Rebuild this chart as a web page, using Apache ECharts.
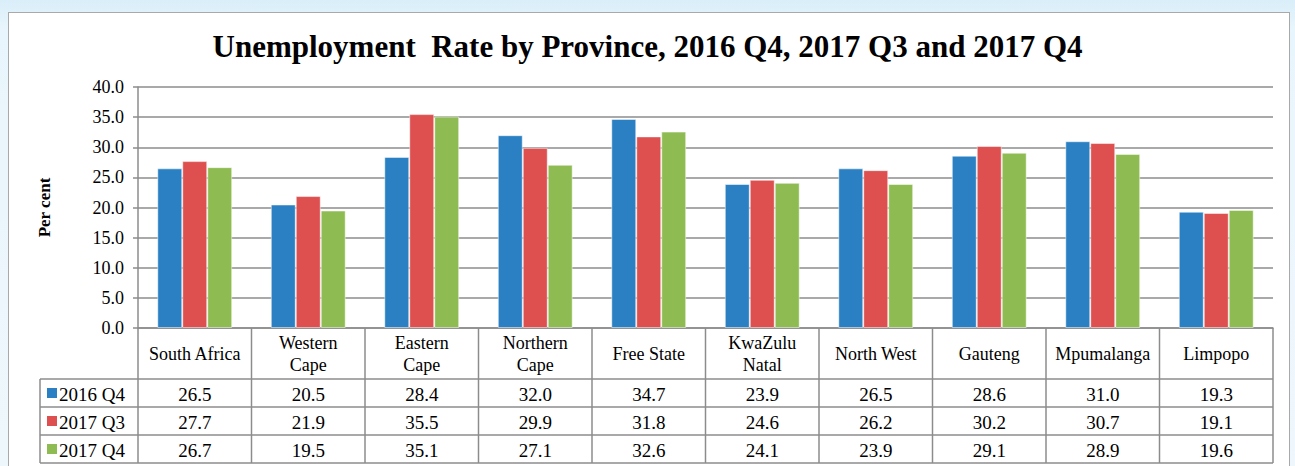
<!DOCTYPE html>
<html>
<head>
<meta charset="utf-8" />
<title>Unemployment Rate by Province</title>
<script src="https://cdn.jsdelivr.net/npm/echarts@6/dist/echarts.min.js"></script>
<style>
  html, body { margin: 0; padding: 0; }
  body { width: 1295px; height: 466px; overflow: hidden; position: relative;
         background: linear-gradient(to bottom, #d9eef9 0px, #e9f5fc 30px, #eef7fc 100%); }
  .panel { position: absolute; left: 8px; top: 12px; width: 1282px; height: 470px;
           background: #fff; border: 1px solid #a9a9a9; box-sizing: border-box; }
  #main { position: absolute; left: 0; top: 0; width: 1295px; height: 466px; }
</style>
</head>
<body>
<div class="panel"></div>
<div id="main"></div>
<script type="text/javascript">
  // data
  var provinces = ['South Africa', 'Western Cape', 'Eastern Cape', 'Northern Cape', 'Free State',
                   'KwaZulu Natal', 'North West', 'Gauteng', 'Mpumalanga', 'Limpopo'];
  var headLabels = ['South Africa', 'Western\nCape', 'Eastern\nCape', 'Northern\nCape', 'Free State',
                    'KwaZulu\nNatal', 'North West', 'Gauteng', 'Mpumalanga', 'Limpopo'];
  var seriesNames = ['2016 Q4', '2017 Q3', '2017 Q4'];
  var q4_2016 = [26.5, 20.5, 28.4, 32.0, 34.7, 23.9, 26.5, 28.6, 31.0, 19.3];
  var q3_2017 = [27.7, 21.9, 35.5, 29.9, 31.8, 24.6, 26.2, 30.2, 30.7, 19.1];
  var q4_2017 = [26.7, 19.5, 35.1, 27.1, 32.6, 24.1, 23.9, 29.1, 28.9, 19.6];
  var allSeries = [q4_2016, q3_2017, q4_2017];
  var colors = ['#2a80c3', '#de4f4f', '#8fbc52'];

  var font = 'Liberation Serif';
  var fs = 18;
  var lineCol = '#8c8c8c';

  var myChart = echarts.init(document.getElementById('main'), null, { renderer: 'svg' });

  var option = {
    backgroundColor: 'transparent',
    animation: false,
    color: colors,
    title: {
      text: 'Unemployment  Rate by Province, 2016 Q4, 2017 Q3 and 2017 Q4',
      left: 'center',
      top: 26,
      textStyle: { fontFamily: font, fontSize: 31, fontWeight: 'bold', color: '#000' }
    },
    grid: { left: 138, right: 22, top: 87, bottom: 138 },
    xAxis: {
      type: 'category',
      data: provinces,
      axisLine: { lineStyle: { color: lineCol, width: 1.5 } },
      axisTick: { show: false },
      axisLabel: { show: false }
    },
    yAxis: {
      type: 'value',
      min: 0, max: 40, interval: 5,
      name: 'Per cent',
      nameLocation: 'middle',
      nameGap: 85,
      nameRotate: 90,
      nameTextStyle: { fontFamily: font, fontSize: 17, fontWeight: 'bold', color: '#000' },
      axisLine: { show: true, lineStyle: { color: lineCol, width: 1.5 } },
      axisTick: { show: true, length: 5, lineStyle: { color: lineCol, width: 1.5 } },
      axisLabel: {
        margin: 14, fontFamily: font, fontSize: fs, color: '#000',
        formatter: function (v) { return v.toFixed(1); }
      },
      splitLine: { lineStyle: { color: lineCol, width: 1.5 } }
    },
    series: seriesNames.map(function (name, k) {
      return {
        name: name,
        type: 'bar',
        data: allSeries[k],
        barGap: '0%',
        barCategoryGap: '34%',
        itemStyle: { color: colors[k], borderColor: 'rgba(255,255,255,0.5)', borderWidth: 1 }
      };
    })
  };
  myChart.setOption(option);

  // data table under the plot, placed from the axis scale
  var gLeft = 138, gRight = 1273, axisY = 328, headBottom = 379, rowH = 28, keyLeft = 40;
  var band = (gRight - gLeft) / provinces.length;
  var tableBottom = headBottom + rowH * seriesNames.length;
  var els = [];
  var lineStyle = { stroke: lineCol, lineWidth: 1.5 };

  // horizontal rules
  for (var r = 0; r <= seriesNames.length; r++) {
    var y = headBottom + r * rowH;
    els.push({ type: 'line', shape: { x1: keyLeft, y1: y, x2: gRight, y2: y }, style: lineStyle, silent: true });
  }
  els.push({ type: 'line', shape: { x1: keyLeft, y1: headBottom, x2: keyLeft, y2: tableBottom }, style: lineStyle, silent: true });

  provinces.forEach(function (p, i) {
    var cx = myChart.convertToPixel({ xAxisIndex: 0 }, p);
    var xl = cx - band / 2;
    els.push({ type: 'line', shape: { x1: xl, y1: axisY, x2: xl, y2: tableBottom }, style: lineStyle, silent: true });
    if (i === provinces.length - 1) {
      var xr = cx + band / 2;
      els.push({ type: 'line', shape: { x1: xr, y1: axisY, x2: xr, y2: tableBottom }, style: lineStyle, silent: true });
    }
    els.push({
      type: 'text', x: cx, y: (axisY + headBottom) / 2, silent: true,
      style: { text: headLabels[i], fontFamily: font, fontSize: fs, fill: '#000',
               align: 'center', verticalAlign: 'middle', lineHeight: 22 }
    });
    allSeries.forEach(function (arr, k) {
      els.push({
        type: 'text', x: cx, y: headBottom + rowH * k + rowH / 2 + 1, silent: true,
        style: { text: arr[i].toFixed(1), fontFamily: font, fontSize: fs + 1, fill: '#000',
                 align: 'center', verticalAlign: 'middle' }
      });
    });
  });

  seriesNames.forEach(function (name, k) {
    var cy = headBottom + rowH * k + rowH / 2;
    els.push({ type: 'rect', shape: { x: keyLeft + 7, y: cy - 5, width: 10, height: 10 },
               style: { fill: colors[k] }, silent: true });
    els.push({
      type: 'text', x: keyLeft + 19, y: cy + 1, silent: true,
      style: { text: name, fontFamily: font, fontSize: fs + 1, fill: '#000', align: 'left', verticalAlign: 'middle' }
    });
  });

  myChart.setOption({ graphic: els });
</script>
</body>
</html>
